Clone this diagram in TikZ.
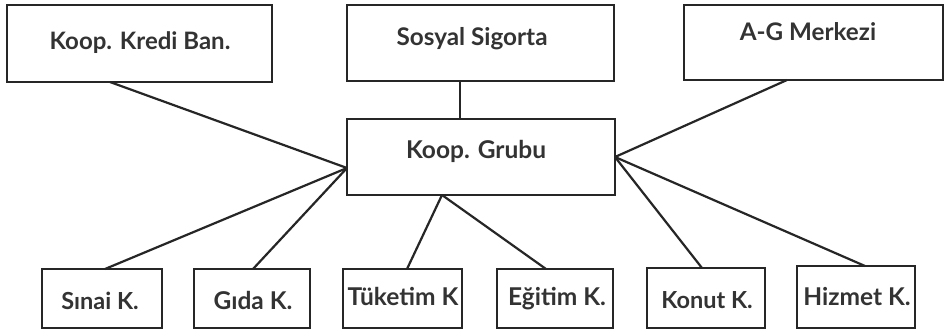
\documentclass[tikz,border=0pt]{standalone}
\usepackage{fontspec}
\setmainfont{Lato}
\begin{document}
\begin{tikzpicture}[x=1pt,y=-1pt,
  box/.style={draw=black!85,line width=2pt},
  conn/.style={draw=black!85,line width=2.2pt},
  lbl/.style={anchor=base,inner sep=0pt,font=\fontsize{#1}{#1}\selectfont\bfseries,text=black!80}]
\useasboundingbox[fill=white] (0,0) rectangle (946,330);
% boxes
\draw[box] (7,5) rectangle (272,82) node[pos=.5,name=kredi]{};
\draw[box] (347,5) rectangle (614,81) node[pos=.5,name=sosyal]{};
\draw[box] (684,5) rectangle (943,80) node[pos=.5,name=ag]{};
\draw[box] (347,119) rectangle (615,195) node[pos=.5,name=grubu]{};
\draw[box] (42,269) rectangle (162,328) node[pos=.5,name=sinai]{};
\draw[box] (194,269) rectangle (310,328) node[pos=.5,name=gida]{};
\draw[box] (343,269) rectangle (462,328) node[pos=.5,name=tuketim]{};
\draw[box] (497,269) rectangle (613,328) node[pos=.5,name=egitim]{};
\draw[box] (647,268) rectangle (765,328) node[pos=.5,name=konut]{};
\draw[box] (797,266) rectangle (915,328) node[pos=.5,name=hizmet]{};
% labels
\node[lbl=24] (tkredi) at (140,49) {Koop. Kredi Ban.};
\node[lbl=24.3] (tsosyal) at (472,45) {Sosyal Sigorta};
\node[lbl=24.2] (tag) at (808,40) {A-G Merkezi};
\node[lbl=24.5] (tgrubu) at (476,158) {Koop. Grubu};
\node[lbl=23.5] (tsinai) at (100,309) {Sınai K.};
\node[lbl=24.5] (tgida) at (253,309) {Gıda K.};
\node[lbl=24.5] (ttuketim) at (403,305) {Tüketim K};
\node[lbl=24.5] (tegitim) at (557,305) {Eğitim K.};
\node[lbl=23.5] (tkonut) at (707,308) {Konut K.};
\node[lbl=24.5] (thizmet) at (857,305) {Hizmet K.};
% attach points
\coordinate (gl) at (347,168);
\coordinate (gr) at (615,157);
\coordinate (gb) at (442,195);
\coordinate (gt) at (460,119);
\coordinate (ck) at (110,82);
\coordinate (cs) at (460,81);
\coordinate (ca) at (787,80);
\coordinate (c1) at (105,269);
\coordinate (c2) at (253,269);
\coordinate (c3) at (407,269);
\coordinate (c4) at (546,269);
\coordinate (c5) at (702,268);
\coordinate (c6) at (865,266);
% connectors
\draw[conn] (ck) -- (gl);
\draw[conn] (cs) -- (gt);
\draw[conn] (ca) -- (gr);
\draw[conn] (c1) -- (gl);
\draw[conn] (c2) -- (gl);
\draw[conn] (c3) -- (gb);
\draw[conn] (c4) -- (gb);
\draw[conn] (c5) -- (gr);
\draw[conn] (c6) -- (gr);
\end{tikzpicture}
\end{document}
